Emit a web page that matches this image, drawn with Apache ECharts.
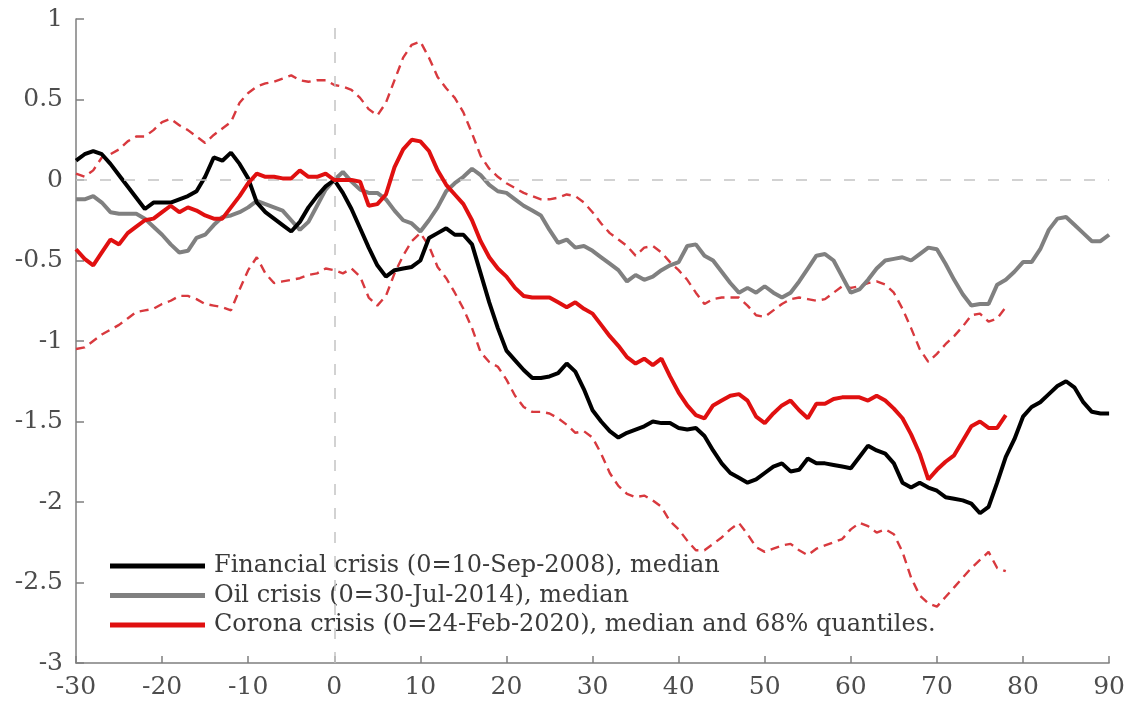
<!DOCTYPE html>
<html>
<head>
<meta charset="utf-8">
<script src="https://cdn.jsdelivr.net/npm/echarts@6/dist/echarts.min.js"></script>
<style>
  html, body { margin: 0; padding: 0; background: #fff; }
  #chart { width: 1128px; height: 702px; }
</style>
</head>
<body>
<div id="chart"></div>
<script>
// Days relative to the crisis date (0 = start of crisis)
const dayStart = -30;

// Financial crisis (0=10-Sep-2008), median, days -30..90
const financialMedian = [
  0.12, 0.16, 0.18, 0.16, 0.10, 0.03, -0.04, -0.11, -0.18, -0.14,
  -0.14, -0.14, -0.12, -0.10, -0.07, 0.02, 0.14, 0.12, 0.17, 0.10,
  0.01, -0.14, -0.20, -0.24, -0.28, -0.32, -0.26, -0.17, -0.10, -0.04,
  0.00, -0.08, -0.18, -0.30, -0.42, -0.53, -0.60, -0.56, -0.55, -0.54,
  -0.50, -0.36, -0.33, -0.30, -0.34, -0.34, -0.40, -0.58, -0.76, -0.92,
  -1.06, -1.12, -1.18, -1.23, -1.23, -1.22, -1.20, -1.14, -1.19, -1.30,
  -1.43, -1.50, -1.56, -1.60, -1.57, -1.55, -1.53, -1.50, -1.51, -1.51,
  -1.54, -1.55, -1.54, -1.59, -1.68, -1.76, -1.82, -1.85, -1.88, -1.86,
  -1.82, -1.78, -1.76, -1.81, -1.80, -1.73, -1.76, -1.76, -1.77, -1.78,
  -1.79, -1.72, -1.65, -1.68, -1.70, -1.76, -1.88, -1.91, -1.88, -1.91,
  -1.93, -1.97, -1.98, -1.99, -2.01, -2.07, -2.03, -1.88, -1.72, -1.61,
  -1.47, -1.41, -1.38, -1.33, -1.28, -1.25, -1.29, -1.38, -1.44, -1.45,
  -1.45
];

// Oil crisis (0=30-Jul-2014), median, days -30..90
const oilMedian = [
  -0.12, -0.12, -0.10, -0.14, -0.20, -0.21, -0.21, -0.21, -0.24, -0.29,
  -0.34, -0.40, -0.45, -0.44, -0.36, -0.34, -0.28, -0.23, -0.22, -0.20,
  -0.17, -0.13, -0.15, -0.17, -0.19, -0.25, -0.31, -0.26, -0.16, -0.06,
  0.00, 0.05, -0.01, -0.06, -0.08, -0.08, -0.12, -0.19, -0.25, -0.27,
  -0.32, -0.25, -0.17, -0.07, -0.02, 0.02, 0.07, 0.03, -0.03, -0.07,
  -0.08, -0.12, -0.16, -0.19, -0.22, -0.31, -0.39, -0.37, -0.42, -0.41,
  -0.44, -0.48, -0.52, -0.56, -0.63, -0.59, -0.62, -0.60, -0.56, -0.53,
  -0.51, -0.41, -0.40, -0.47, -0.50, -0.57, -0.64, -0.70, -0.67, -0.70,
  -0.66, -0.70, -0.73, -0.70, -0.63, -0.55, -0.47, -0.46, -0.50, -0.60,
  -0.70, -0.68, -0.62, -0.55, -0.50, -0.49, -0.48, -0.50, -0.46, -0.42,
  -0.43, -0.52, -0.62, -0.71, -0.78, -0.77, -0.77, -0.65, -0.62, -0.57,
  -0.51, -0.51, -0.43, -0.31, -0.24, -0.23, -0.28, -0.33, -0.38, -0.38,
  -0.34
];

// Corona crisis (0=24-Feb-2020), median, days -30..78
const coronaMedian = [
  -0.43, -0.49, -0.53, -0.45, -0.37, -0.40, -0.33, -0.29, -0.25, -0.24,
  -0.20, -0.16, -0.20, -0.17, -0.19, -0.22, -0.24, -0.24, -0.17, -0.10,
  -0.02, 0.04, 0.02, 0.02, 0.01, 0.01, 0.06, 0.02, 0.02, 0.04,
  0.00, 0.00, 0.00, -0.01, -0.16, -0.15, -0.09, 0.08, 0.19, 0.25,
  0.24, 0.18, 0.06, -0.03, -0.09, -0.15, -0.25, -0.38, -0.48, -0.55,
  -0.60, -0.67, -0.72, -0.73, -0.73, -0.73, -0.76, -0.79, -0.76, -0.80,
  -0.83, -0.90, -0.97, -1.03, -1.10, -1.14, -1.11, -1.15, -1.11, -1.22,
  -1.32, -1.40, -1.46, -1.48, -1.40, -1.37, -1.34, -1.33, -1.37, -1.47,
  -1.51, -1.45, -1.40, -1.37, -1.43, -1.48, -1.39, -1.39, -1.36, -1.35,
  -1.35, -1.35, -1.37, -1.34, -1.37, -1.42, -1.48, -1.58, -1.70, -1.86,
  -1.80, -1.75, -1.71, -1.62, -1.53, -1.50, -1.54, -1.54, -1.46
];

// Corona crisis, upper 68% quantile, days -30..78
const coronaUpper = [
  0.04, 0.02, 0.06, 0.14, 0.16, 0.19, 0.24, 0.27, 0.27, 0.31,
  0.36, 0.38, 0.34, 0.31, 0.27, 0.23, 0.28, 0.32, 0.36, 0.48,
  0.54, 0.58, 0.60, 0.61, 0.63, 0.65, 0.62, 0.61, 0.62, 0.62,
  0.59, 0.58, 0.56, 0.51, 0.44, 0.40, 0.48, 0.62, 0.76, 0.84,
  0.86, 0.76, 0.64, 0.57, 0.51, 0.42, 0.29, 0.15, 0.07, 0.02,
  -0.02, -0.05, -0.08, -0.10, -0.12, -0.12, -0.11, -0.09, -0.10, -0.14,
  -0.20, -0.27, -0.33, -0.37, -0.41, -0.47, -0.42, -0.41, -0.45, -0.51,
  -0.56, -0.62, -0.70, -0.77, -0.74, -0.73, -0.73, -0.73, -0.78, -0.84,
  -0.85, -0.81, -0.77, -0.74, -0.73, -0.74, -0.75, -0.74, -0.70, -0.66,
  -0.67, -0.66, -0.64, -0.63, -0.65, -0.70, -0.80, -0.92, -1.05, -1.13,
  -1.08, -1.02, -0.97, -0.91, -0.84, -0.83, -0.88, -0.86, -0.79
];

// Corona crisis, lower 68% quantile, days -30..78
const coronaLower = [
  -1.05, -1.04, -1.00, -0.96, -0.93, -0.90, -0.86, -0.82, -0.81, -0.80,
  -0.77, -0.75, -0.72, -0.72, -0.74, -0.77, -0.78, -0.79, -0.81, -0.68,
  -0.56, -0.48, -0.58, -0.64, -0.63, -0.62, -0.61, -0.59, -0.58, -0.55,
  -0.56, -0.58, -0.55, -0.60, -0.73, -0.78, -0.72, -0.58, -0.47, -0.38,
  -0.33, -0.41, -0.54, -0.61, -0.70, -0.80, -0.92, -1.07, -1.13, -1.16,
  -1.24, -1.34, -1.41, -1.44, -1.44, -1.45, -1.48, -1.52, -1.57, -1.56,
  -1.60, -1.70, -1.82, -1.90, -1.95, -1.97, -1.96, -1.99, -2.03, -2.12,
  -2.17, -2.24, -2.30, -2.30, -2.26, -2.22, -2.17, -2.13, -2.20, -2.28,
  -2.31, -2.29, -2.27, -2.26, -2.30, -2.33, -2.29, -2.27, -2.25, -2.23,
  -2.17, -2.13, -2.15, -2.19, -2.17, -2.20, -2.31, -2.47, -2.58, -2.63,
  -2.65, -2.59, -2.53, -2.47, -2.41, -2.36, -2.31, -2.41, -2.43
];

const legendNames = [
  'Financial crisis (0=10-Sep-2008), median',
  'Oil crisis (0=30-Jul-2014), median',
  'Corona crisis (0=24-Feb-2020), median and 68% quantiles.'
];

// Pair each value with its day offset
function toPoints(values) {
  return values.map((v, i) => [dayStart + i, v]);
}

const FONT = 'DejaVu Serif';
const axisColor = '#7f7f7f';
const labelColor = '#4d4d4d';

const chart = echarts.init(document.getElementById('chart'), null, { renderer: 'canvas' });

const quantileStyle = { color: '#d8393e', width: 2.4, type: [9, 6] };

chart.setOption({
  animation: false,
  backgroundColor: '#ffffff',
  grid: { left: 76, right: 17, top: 19, bottom: 39, containLabel: false },
  legend: {
    data: legendNames,
    orient: 'vertical',
    left: 110,
    top: 553,
    padding: 0,
    itemWidth: 95,
    itemHeight: 5,
    itemGap: 3.5,
    icon: 'rect',
    selectedMode: false,
    textStyle: {
      fontFamily: FONT,
      fontSize: 24,
      color: '#3a3a3a',
      lineHeight: 26,
      padding: [0, 0, 0, 4]
    }
  },
  xAxis: {
    type: 'value',
    min: -30,
    max: 90,
    interval: 10,
    axisLine: { show: true, onZero: false, lineStyle: { color: axisColor, width: 1.5 } },
    axisTick: { show: true, inside: true, length: 7, lineStyle: { color: axisColor, width: 1.5 } },
    axisLabel: { fontFamily: FONT, fontSize: 25, color: labelColor, margin: 12 },
    splitLine: { show: false }
  },
  yAxis: {
    type: 'value',
    min: -3,
    max: 1,
    interval: 0.5,
    axisLine: { show: true, onZero: false, lineStyle: { color: axisColor, width: 1.5 } },
    axisTick: { show: true, inside: true, length: 8, lineStyle: { color: axisColor, width: 1.5 } },
    axisLabel: { fontFamily: FONT, fontSize: 25, color: labelColor, margin: 13 },
    splitLine: { show: false }
  },
  series: [
    {
      name: 'upper',
      type: 'line',
      data: toPoints(coronaUpper),
      showSymbol: false,
      symbol: 'none',
      lineStyle: quantileStyle,
      z: 2,
      markLine: {
        silent: true,
        symbol: 'none',
        label: { show: false },
        lineStyle: { color: '#c4c4c4', width: 1.5, type: [11, 13] },
        data: [{ yAxis: 0 }, { xAxis: 0 }]
      }
    },
    {
      name: 'lower',
      type: 'line',
      data: toPoints(coronaLower),
      showSymbol: false,
      symbol: 'none',
      lineStyle: quantileStyle,
      z: 2
    },
    {
      name: legendNames[1],
      type: 'line',
      data: toPoints(oilMedian),
      showSymbol: false,
      symbol: 'none',
      color: '#808080',
      lineStyle: { color: '#808080', width: 4 },
      z: 3
    },
    {
      name: legendNames[0],
      type: 'line',
      data: toPoints(financialMedian),
      showSymbol: false,
      symbol: 'none',
      color: '#000000',
      lineStyle: { color: '#000000', width: 4 },
      z: 4
    },
    {
      name: legendNames[2],
      type: 'line',
      data: toPoints(coronaMedian),
      showSymbol: false,
      symbol: 'none',
      color: '#e01010',
      lineStyle: { color: '#e01010', width: 4 },
      z: 5
    }
  ]
});
</script>
</body>
</html>
